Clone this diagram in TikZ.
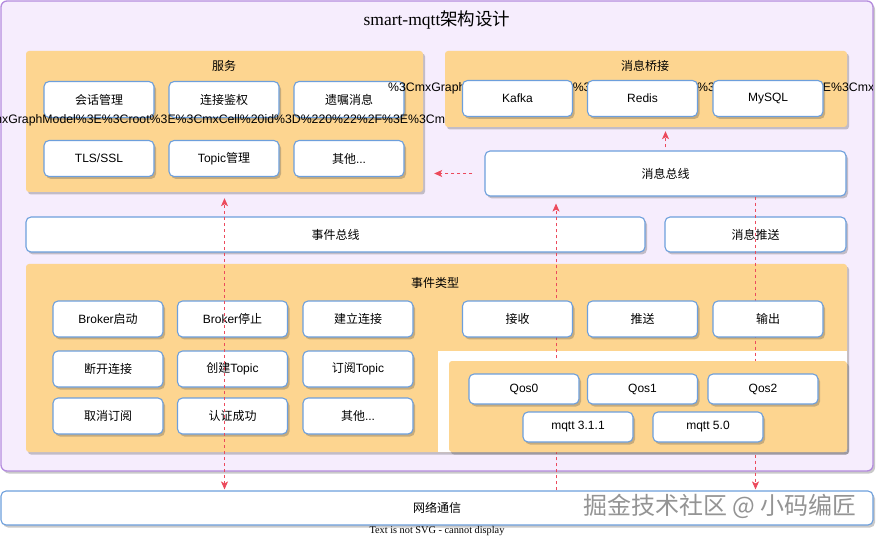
\documentclass[tikz,border=0pt]{standalone}
\usepackage{fontspec}
\setmainfont{Liberation Sans}
\newfontfamily\cjk{Noto Sans CJK SC}
\newfontfamily\tms{Liberation Serif}
\usetikzlibrary{arrows.meta,positioning,shadows,calc}
\definecolor{cFrame}  {HTML}{F6EDFD}
\definecolor{cFrameLn}{HTML}{B48BDE}
\definecolor{cPanel}  {HTML}{FDD590}
\definecolor{cBoxLn}  {HTML}{6D9FDC}
\definecolor{cLink}   {HTML}{EC4A5C}
\newcommand\fs[1]{\fontsize{#1}{#1}\selectfont}
\newcommand\zh[1]{{\cjk #1}}
\newcommand\junkhead{\%3CmxGraphModel\%3E\%3Croot\%3E\%3CmxCell\%20id\%3D\%220\%22\%2F\%3E\%3CmxCell\%20id\%3D\%221\%22}
\newcommand\junk{\junkhead\%20parent\%3D\%220\%22\%2F\%3E\%3CmxCell\%20id\%3D\%222\%22}
\tikzset{
  shd/.style   ={drop shadow={shadow xshift=2pt,shadow yshift=-2.5pt,opacity=.3,fill=black!70}},
  frame/.style ={draw=cFrameLn,fill=cFrame,line width=1.3pt,rounded corners=6pt,
                 inner sep=0pt,shd},
  pnl/.style   ={fill=cPanel,rounded corners=3pt,inner sep=0pt,shd},
  box/.style   ={draw=cBoxLn,fill=white,line width=1.1pt,rounded corners=5pt,
                 minimum width=110pt,minimum height=36pt,inner sep=0pt,
                 font=\fs{12},shd},
  qbox/.style  ={box,minimum height=30pt},
  lbl/.style   ={font=\fs{12},inner sep=0pt},
  raw/.style   ={font=\fs{12.3},inner sep=0pt,anchor=west},
  lnk/.style   ={draw=cLink,line width=.8pt,dash pattern=on 3pt off 3pt},
  tip/.style   ={-{Stealth[length=8pt,width=7pt,inset=2pt,fill=cLink]}},
}
\begin{document}
\begin{tikzpicture}[x=1pt,y=-1pt]
\useasboundingbox (0,0) rectangle (881,537);

% outer frame
\node[frame,minimum width=872pt,minimum height=470pt] (frame) at (437,236) {};
\node[font=\tms\fs{17.5},inner sep=0pt] (title) at (437,20) {smart-mqtt\zh{架构设计}};

% services
\node[pnl,minimum width=397pt,minimum height=141pt] (svc) at (224.5,121.5) {};
\node[lbl] (svcT) at (224,66) {\zh{服务}};
\node[box] (sess)  at (99,99.5)   {\zh{会话管理}};
\node[box] (auth)  at (224,99.5)  {\zh{连接鉴权}};
\node[box] (will)  at (349,99.5)  {\zh{遗嘱消息}};
\node[box] (tls)   at (99,158.5)  {TLS/SSL};
\node[box] (topic) at (224,158.5) {Topic\zh{管理}};
\node[box] (svcEt) at (349,158.5) {\zh{其他}...};

\begin{scope}
\clip (0,0) rectangle (872,537);
\node[raw] (junkB) at (-35,120) {\junkhead};
\end{scope}

% message bridge
\node[pnl,minimum width=402pt,minimum height=76pt] (bridge) at (646,89) {};
\node[lbl] (bridgeT) at (645,66) {\zh{消息桥接}};
\begin{scope}
\clip (0,0) rectangle (872,537);
\node[raw] (junkA) at (388,88) {\junk};
\end{scope}
\node[box] (kafka) at (517.5,98.5) {Kafka};
\node[box] (redis) at (642.5,98.5) {Redis};
\node[box] (mysql) at (768,98.5)   {MySQL};

% buses
\node[box,minimum width=361pt,minimum height=45pt] (msgbus) at (665.5,173.5) {\zh{消息总线}};
\node[box,minimum width=619pt,minimum height=35pt] (evbus)  at (335.5,234.5) {\zh{事件总线}};

% event types
\node[pnl,minimum width=821pt,minimum height=188pt] (evt) at (436.5,358) {};
\node[lbl] (evtT) at (435,283) {\zh{事件类型}};
\fill[white] (evt.south east) rectangle (438,351);

\node[box,minimum width=181pt,minimum height=35pt] (push) at (755.5,234.5) {\zh{消息推送}};
\node[box,minimum width=872pt,minimum height=34pt] (net) at (437,508) {\zh{网络通信}};

\coordinate (recvX) at (556,0);
\draw[lnk,tip,shorten >=7pt] (net.north -| recvX) -- (msgbus.south -| recvX);
\draw[lnk,tip,shorten >=1pt] (msgbus.south -| push) -- (net.north -| push);

\node[box] (bstart) at (108,319)   {Broker\zh{启动}};
\node[box] (bstop)  at (232.5,319) {Broker\zh{停止}};
\node[box] (conn)   at (358,319)   {\zh{建立连接}};
\node[box] (disc)   at (108,369)   {\zh{断开连接}};
\node[box] (mktop)  at (232.5,369) {\zh{创建}Topic};
\node[box] (subtop) at (358,369)   {\zh{订阅}Topic};
\node[box] (unsub)  at (108,416)   {\zh{取消订阅}};
\node[box] (authok) at (232.5,416) {\zh{认证成功}};
\node[box] (evtEt)  at (358,416)   {\zh{其他}...};

\node[box] (recv) at (517.5,319) {\zh{接收}};
\node[box] (send) at (642.5,319) {\zh{推送}};
\node[box] (out)  at (768,319)   {\zh{输出}};

% protocol
\node[pnl,minimum width=398pt,minimum height=91pt] (proto) at (648,406.5) {};
\node[qbox] (qos0) at (524,389)   {Qos0};
\node[qbox] (qos1) at (642.5,389) {Qos1};
\node[qbox] (qos2) at (763,389)   {Qos2};
\node[qbox] (m311) at (578,427)   {mqtt 3.1.1};
\node[qbox] (m50)  at (708,427)   {mqtt 5.0};

% links
\draw[lnk,{Stealth[length=8pt,width=7pt,inset=2pt,fill=cLink]}-{Stealth[length=8pt,width=7pt,inset=2pt,fill=cLink]},
      shorten >=6pt,shorten <=1pt] (net.north -| svc.south) -- (svc.south);
\draw[lnk,tip,shorten <=12pt,shorten >=11pt] (msgbus.west) -- (svc.east |- msgbus.west);
\draw[lnk,tip,shorten <=3pt,shorten >=4pt] (msgbus.north) -- (bridge.south -| msgbus.north);

\node[font=\cjk\fs{24},text=black!42,inner sep=0pt] (mark) at (720,506) {掘金技术社区 @ 小码编匠};
\node[font=\tms\fs{10.3},inner sep=0pt] (svgnote) at (437,531) {Text is not SVG - cannot display};
\end{tikzpicture}
\end{document}
